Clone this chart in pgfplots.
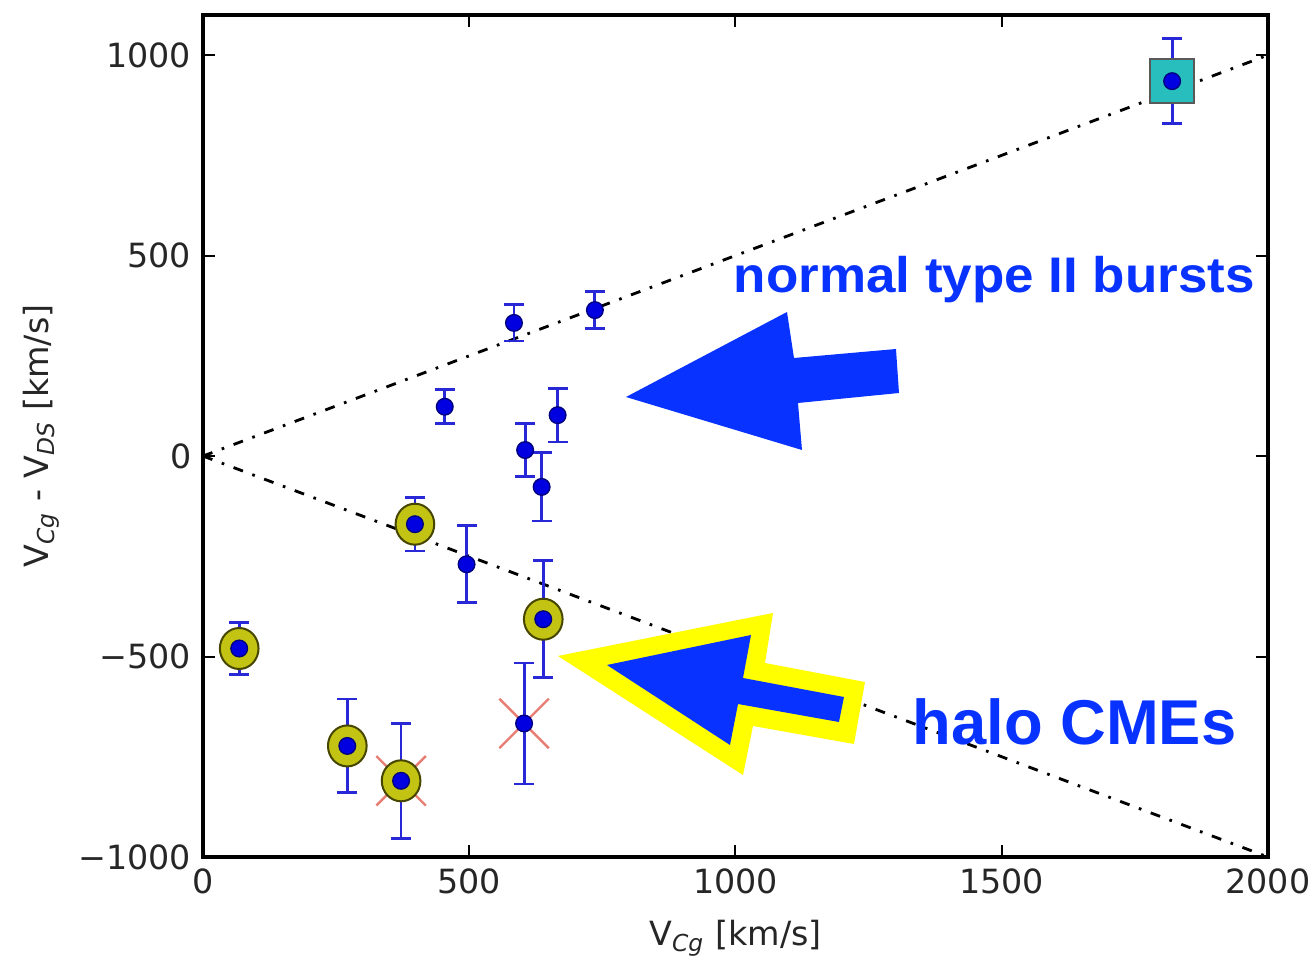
\documentclass[border=0pt]{standalone}
\usepackage{pgfplots}
\usepackage{pgfplotstable}
\usepackage{graphicx}
\pgfplotsset{compat=1.18}
\usepackage{fontspec}
\setmainfont{DejaVu Sans}
\newfontfamily\annfont{Liberation Sans}
\definecolor{annblue}{RGB}{8,50,255}
\definecolor{annyellow}{RGB}{255,255,0}
\definecolor{dotblue}{RGB}{0,0,225}
\definecolor{barblue}{RGB}{40,40,215}
\definecolor{halo}{RGB}{195,195,20}
\definecolor{haloedge}{RGB}{70,70,0}
\definecolor{xred}{RGB}{232,125,115}
\definecolor{sqfill}{RGB}{40,190,190}

\pgfplotstableread{
x y e
454 123 42
584 332 45
736 364 46
666 102 67
605 15 67
636 -77 85
495 -270 96
603 -667 151
398 -170 67
639 -407 146
68 -480 65
271 -723 117
372 -810 143
1820 935 106
}\allpts

\pgfplotstableread{
x y
398 -170
639 -407
68 -480
271 -723
372 -810
}\halopts

\pgfplotstableread{
x y
372 -810
603 -667
}\xpts

\pgfplotstableread{
x y
1820 935
}\sqpts

\begin{document}
\begin{tikzpicture}
\begin{axis}[
  at={(0,0)}, anchor=south west,
  scale only axis, width=319.5pt, height=252.6pt,
  xmin=0, xmax=2000, ymin=-1000, ymax=1100,
  xtick={0,500,1000,1500,2000},
  xticklabels={0,500,1000,1500,2000},
  ytick={-1000,-500,0,500,1000},
  yticklabels={−1000,−500,0,500,1000},
  tick align=inside,
  major tick length=3.6pt,
  tick style={black, line width=0.6pt},
  axis line style={black, line width=1pt},
  ticklabel style={font=\fontsize{10}{12}\selectfont, text=black!85},
  xlabel={V\textsubscript{\itshape Cg} [km/s]},
  ylabel={V\textsubscript{\itshape Cg} - V\textsubscript{\itshape DS} [km/s]},
  label style={font=\fontsize{10}{12}\selectfont, text=black!85},
  xlabel style={yshift=-1pt},
  ylabel style={yshift=-1pt},
]
\addplot[black, line width=0.85pt, dash pattern=on 3pt off 3pt on 0.8pt off 3pt] coordinates {(0,0) (2000,1000)};
\addplot[black, line width=0.85pt, dash pattern=on 3pt off 3pt on 0.8pt off 3pt] coordinates {(0,0) (2000,-1000)};
\addplot[only marks, mark=x, mark size=10.5pt, color=xred, mark options={line width=0.7pt}] table[x=x,y=y]{\xpts};
\addplot[only marks, mark=none,
  error bars/.cd, y dir=both, y explicit,
  error bar style={draw=barblue, line width=0.85pt},
  error mark options={rotate=90, mark size=3pt, draw=barblue, line width=0.85pt}]
  table[x=x,y=y,y error=e]{\allpts};
\addplot[only marks, mark=*, mark size=5.8pt, mark options={yscale=1.06, fill=halo, draw=haloedge, line width=0.6pt}] table[x=x,y=y]{\halopts};
\addplot[only marks, mark=square*, mark size=6.6pt, mark options={fill=sqfill, draw=black!65, line width=0.6pt}] table[x=x,y=y]{\sqpts};
\addplot[only marks, mark=*, mark size=2.5pt, mark options={fill=dotblue, draw=dotblue!55!black, line width=0.4pt}] table[x=x,y=y]{\allpts};
\end{axis}
\begin{scope}[x=0.3pt,y=-0.3pt,shift={(-60.9pt,257.1pt)}]
  % upper blue arrow
  \fill[annblue] (626,397) -- (787,312) -- (794,358) -- (896,349) -- (899,393) -- (798,403) -- (802,450) -- cycle;
  % yellow-outlined arrow
  \fill[annyellow] (558,656) -- (773,613) -- (765,663) -- (865,682) -- (854,744) -- (753,726) -- (743,775) -- cycle;
  \fill[annblue] (607,665) -- (751,635) -- (743,678) -- (844,697) -- (839,722) -- (738,704) -- (730,745) -- cycle;
  \node[anchor=base west, inner sep=0pt, text=annblue] at (733,293)
    {\scalebox{1.06}[1]{\annfont\bfseries\fontsize{15}{18}\selectfont normal type II bursts}};
  \node[anchor=base west, inner sep=0pt, text=annblue] at (912,745)
    {\annfont\bfseries\fontsize{19}{22}\selectfont halo CMEs};
  \pgfresetboundingbox
  \path[use as bounding box] (0,0) rectangle (1309,959);
\end{scope}
\end{tikzpicture}
\end{document}
